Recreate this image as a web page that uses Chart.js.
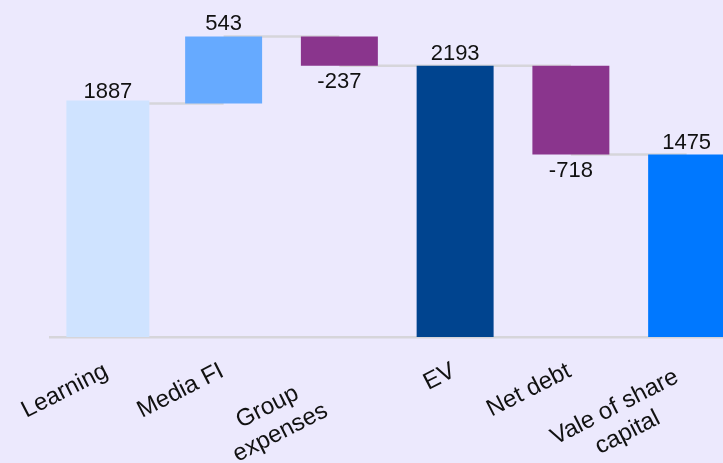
<!DOCTYPE html>
<html>
<head>
<meta charset="utf-8">
<script src="https://cdn.jsdelivr.net/npm/chart.js@4/dist/chart.umd.min.js"></script>
<style>
  html, body { margin: 0; padding: 0; overflow: hidden; background: #ECE9FD; }
  #wrap { width: 760px; height: 463px; }
</style>
</head>
<body>
<div id="wrap"><canvas id="myChart"></canvas></div>
<script>
const categories = ['Learning', 'Media FI', ['Group', 'expenses'], 'EV', 'Net debt', ['Vale of share', 'capital']];
const values = [1887, 543, -237, 2193, -718, 1475];
const kinds = ['start', 'delta', 'delta', 'total', 'delta', 'total'];
const barColors = ['#CFE3FF', '#66AAFF', '#8A358D', '#00448F', '#8A358D', '#0078FF'];

const FONT = '22px "Liberation Sans", Arial, sans-serif';
const TICK_FONT = '24px "Liberation Sans", Arial, sans-serif';

// floating ranges for the waterfall
var running = 0;
const ranges = [];
const levels = [];
values.forEach(function (v, i) {
    if (kinds[i] === 'delta') {
        ranges.push([running, running + v]);
        running += v;
    } else {
        ranges.push([0, v]);
        running = v;
    }
    levels.push(running);
});

const connectors = {
    id: 'connectors',
    beforeDatasetsDraw: function (chart) {
        const meta = chart.getDatasetMeta(0);
        const y = chart.scales.y;
        const c = chart.ctx;
        c.save();
        c.strokeStyle = '#D6D5DA';
        c.lineWidth = 2.5;
        for (var i = 0; i < levels.length - 1; i++) {
            const py = y.getPixelForValue(levels[i]);
            c.beginPath();
            c.moveTo(meta.data[i].x, py);
            c.lineTo(meta.data[i + 1].x, py);
            c.stroke();
        }
        c.restore();
    }
};

const valueLabels = {
    id: 'valueLabels',
    afterDatasetsDraw: function (chart) {
        const meta = chart.getDatasetMeta(0);
        const y = chart.scales.y;
        const c = chart.ctx;
        c.save();
        c.font = FONT;
        c.fillStyle = '#111111';
        c.textAlign = 'center';
        values.forEach(function (v, i) {
            const hi = Math.max(ranges[i][0], ranges[i][1]);
            const lo = Math.min(ranges[i][0], ranges[i][1]);
            if (v < 0) {
                c.textBaseline = 'top';
                c.fillText(String(v), meta.data[i].x, y.getPixelForValue(lo) + 5);
            } else {
                c.textBaseline = 'alphabetic';
                c.fillText(String(v), meta.data[i].x, y.getPixelForValue(hi) - 6);
            }
        });
        c.restore();
    }
};

// rotated category labels, lines centred
const xLabels = {
    id: 'xLabels',
    afterDraw: function (chart) {
        const xs = chart.scales.x;
        const c = chart.ctx;
        const ang = 27 * Math.PI / 180;
        const lh = 28.5;
        c.save();
        c.font = TICK_FONT;
        c.fillStyle = '#111111';
        c.textAlign = 'center';
        c.textBaseline = 'middle';
        categories.forEach(function (lab, i) {
            const lines = Array.isArray(lab) ? lab : [lab];
            const tx = xs.getPixelForValue(i);
            var cx, cy;
            if (lines.length === 1) {
                // rotated box: right edge near the tick, top just under the axis
                const w = c.measureText(lines[0]).width;
                const bw = w * Math.cos(ang) + lh * Math.sin(ang);
                const bh = w * Math.sin(ang) + lh * Math.cos(ang);
                cx = tx + 5 - bw / 2;
                cy = xs.top + 20 + bh / 2;
            } else {
                // wrapped labels sit in a fixed box
                cx = tx - 65.5;
                cy = xs.top + 83;
            }
            c.save();
            c.translate(cx, cy);
            c.rotate(-ang);
            lines.forEach(function (t, k) {
                c.fillText(t, 0, (k - (lines.length - 1) / 2) * lh);
            });
            c.restore();
        });
        c.restore();
    }
};

var ctx = document.getElementById('myChart');

var myChart = new Chart(ctx, {
    type: 'bar',
    data: {
        labels: categories,
        datasets: [{
            data: ranges,
            backgroundColor: barColors,
            borderWidth: 0,
            inflateAmount: function (c) { return c.dataIndex === 0 ? 3 : 0; },
            barPercentage: 0.665,
            categoryPercentage: 1
        }]
    },
    plugins: [connectors, valueLabels, xLabels],
    options: {
        responsive: true,
        maintainAspectRatio: false,
        animation: false,
        layout: { padding: { left: 50, right: 15.5, top: 3, bottom: 0 } },
        plugins: {
            legend: { display: false },
            tooltip: { enabled: false }
        },
        scales: {
            y: {
                display: false,
                min: 0,
                max: 2700
            },
            x: {
                grid: { display: false, drawTicks: false },
                border: { display: true, color: '#D6D5DA', width: 2.5 },
                ticks: { display: false },
                afterFit: function (scale) { scale.height = 126; }
            }
        }
    }
});
</script>
</body>
</html>
